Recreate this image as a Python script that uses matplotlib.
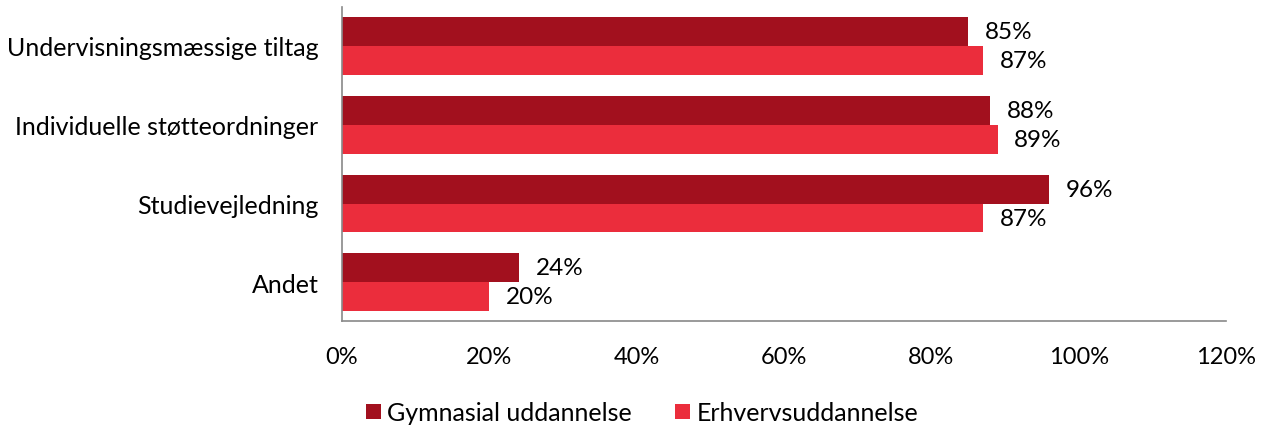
import numpy as np
import matplotlib.pyplot as plt
from matplotlib.ticker import PercentFormatter

plt.rcParams['font.family'] = ['Lato', 'DejaVu Sans']

categories = ["Undervisningsmæssige tiltag", "Individuelle støtteordninger",
              "Studievejledning", "Andet"]
gymnasial = [85, 88, 96, 24]
erhverv = [87, 89, 87, 20]
series_names = ["Gymnasial uddannelse", "Erhvervsuddannelse"]
colors = ["#A2101E", "#EB2D3C"]

fig = plt.figure(figsize=(12.66, 4.27), dpi=100)
ax = fig.add_axes([0.2701, 0.2459, 0.6983, 0.7354])

y = np.arange(len(categories))
h = 0.367
bars1 = ax.barh(y - h / 2, gymnasial, height=h, color=colors[0], label=series_names[0])
bars2 = ax.barh(y + h / 2, erhverv, height=h, color=colors[1], label=series_names[1])

for bars, vals in [(bars1, gymnasial), (bars2, erhverv)]:
    for b, v in zip(bars, vals):
        ax.annotate(f"{v}%", (v, b.get_y() + b.get_height() / 2),
                    xytext=(12, 0), textcoords="offset points",
                    va="center", ha="left", fontsize=17.5)

ax.set_xlim(0, 120)
ax.set_ylim(3.49, -0.494)
ax.set_xticks(np.arange(0, 121, 20))
ax.xaxis.set_major_formatter(PercentFormatter(decimals=0))
ax.set_yticks(y)
ax.set_yticklabels(categories, fontsize=18)
ax.tick_params(axis="both", length=0)
ax.tick_params(axis="x", pad=18, labelsize=17)
ax.tick_params(axis="y", pad=17)

for s in ["top", "right"]:
    ax.spines[s].set_visible(False)
for s in ["left", "bottom"]:
    ax.spines[s].set_color("#898989")
    ax.spines[s].set_linewidth(1.2)

fig.legend(loc="center", bbox_to_anchor=(0.507, 0.031), ncol=2, frameon=False,
           fontsize=18, handlelength=0.6, handleheight=0.6, handletextpad=0.24,
           columnspacing=1.76)

fig.savefig("out.png", dpi=100)
